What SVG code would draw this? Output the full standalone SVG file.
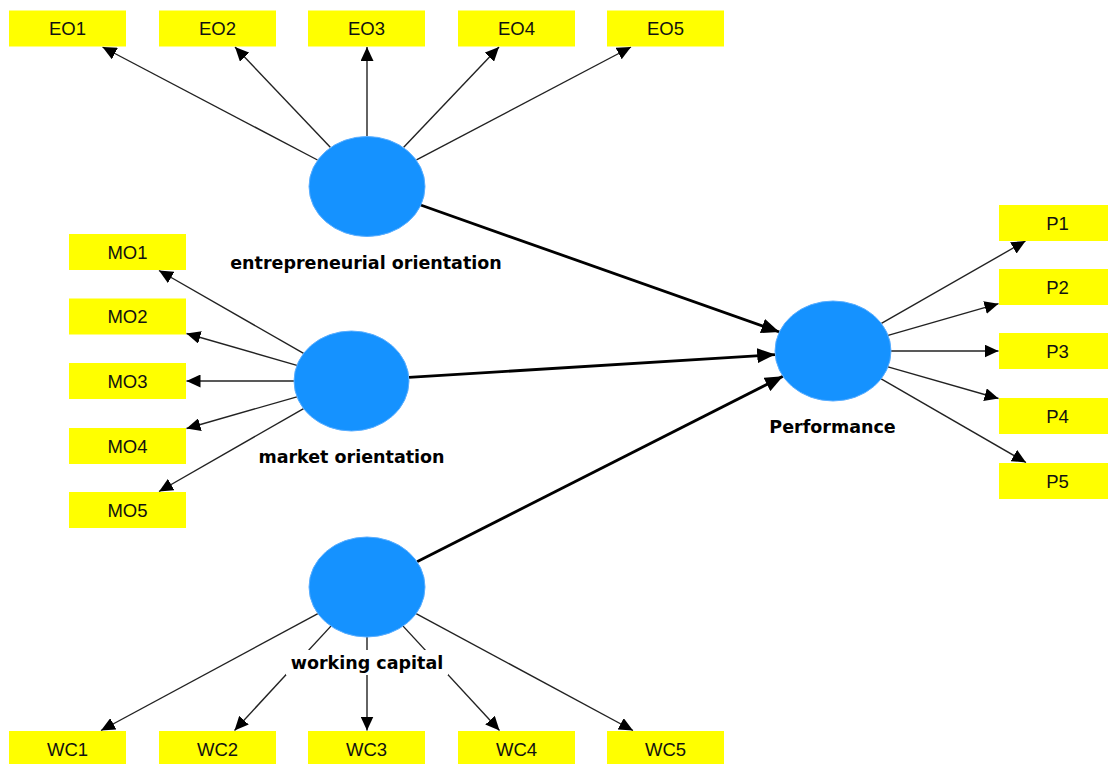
<svg xmlns="http://www.w3.org/2000/svg" width="1108" height="764" viewBox="0 0 1108 764">
<defs>
<style>
.box{fill:#FFFF00;}
.bt{font-family:"Liberation Sans",Arial,sans-serif;font-size:18.5px;fill:#111;text-anchor:middle;}
.lv{fill:#1592FF;stroke:#5aaeff;stroke-width:1;}
.lb{font-family:"DejaVu Sans",Verdana,sans-serif;font-weight:bold;font-size:17.5px;fill:#000;text-anchor:middle;}
.e{stroke:#222;stroke-width:1.4;fill:none;marker-end:url(#a);}
.s{stroke:#000;stroke-width:2.8;fill:none;marker-end:url(#b);}
</style>
<marker id="a" markerUnits="userSpaceOnUse" markerWidth="15" markerHeight="13" refX="14" refY="6.5" orient="auto"><path d="M0,0 L14,6.5 L0,13 z" fill="#000"/></marker>
<marker id="b" markerUnits="userSpaceOnUse" markerWidth="19" markerHeight="15" refX="18" refY="7.5" orient="auto"><path d="M0,0 L18,7.5 L0,15 z" fill="#000"/></marker>
</defs>
<rect width="1108" height="764" fill="#fff"/>
<g id="connectors">
<line class="e" x1="317.5" y1="160" x2="102.5" y2="47"/>
<line class="e" x1="330.3" y1="147.3" x2="235" y2="47"/>
<line class="e" x1="367" y1="136" x2="367" y2="47"/>
<line class="e" x1="403.7" y1="147.3" x2="499" y2="47"/>
<line class="e" x1="416.5" y1="159.9" x2="631" y2="47"/>
<line class="e" x1="303.6" y1="353.4" x2="159" y2="270.5"/>
<line class="e" x1="296.9" y1="365.3" x2="186.5" y2="333.5"/>
<line class="e" x1="294" y1="381" x2="186.5" y2="381"/>
<line class="e" x1="296.9" y1="396.8" x2="186.5" y2="428.5"/>
<line class="e" x1="303.6" y1="408.6" x2="159" y2="491.5"/>
<line class="e" x1="881.4" y1="323.4" x2="1025.5" y2="241"/>
<line class="e" x1="888.1" y1="335.3" x2="998.5" y2="303.7"/>
<line class="e" x1="891" y1="351" x2="998.5" y2="351"/>
<line class="e" x1="888" y1="366.9" x2="998.5" y2="398.5"/>
<line class="e" x1="881.2" y1="378.9" x2="1026" y2="462.5"/>
<line class="e" x1="317.9" y1="613.6" x2="101" y2="730.5"/>
<line class="e" x1="330.9" y1="626.1" x2="234.5" y2="730.5"/>
<line class="e" x1="367" y1="637" x2="367" y2="730.5"/>
<line class="e" x1="403.1" y1="626.1" x2="499.5" y2="730.5"/>
<line class="e" x1="416.1" y1="613.6" x2="633" y2="730.5"/>
<line class="s" x1="420.6" y1="205" x2="779.4" y2="332"/>
<line class="s" x1="408.8" y1="377.4" x2="775.2" y2="354.6"/>
<line class="s" x1="417" y1="561.7" x2="783" y2="376.3"/>
</g>
<g id="EO1"><rect class="box" x="9" y="10.5" width="117" height="36"/><text class="bt" x="67.5" y="35">EO1</text></g>
<g id="EO2"><rect class="box" x="159" y="10.5" width="117" height="36"/><text class="bt" x="217.5" y="35">EO2</text></g>
<g id="EO3"><rect class="box" x="308" y="10.5" width="117" height="36"/><text class="bt" x="366.5" y="35">EO3</text></g>
<g id="EO4"><rect class="box" x="458" y="10.5" width="117" height="36"/><text class="bt" x="516.5" y="35">EO4</text></g>
<g id="EO5"><rect class="box" x="607" y="10.5" width="117" height="36"/><text class="bt" x="665.5" y="35">EO5</text></g>
<g id="MO1"><rect class="box" x="69" y="234" width="117" height="36"/><text class="bt" x="127.5" y="258.5">MO1</text></g>
<g id="MO2"><rect class="box" x="69" y="298.5" width="117" height="36"/><text class="bt" x="127.5" y="323">MO2</text></g>
<g id="MO3"><rect class="box" x="69" y="363" width="117" height="36"/><text class="bt" x="127.5" y="387.5">MO3</text></g>
<g id="MO4"><rect class="box" x="69" y="428" width="117" height="36"/><text class="bt" x="127.5" y="452.5">MO4</text></g>
<g id="MO5"><rect class="box" x="69" y="492" width="117" height="36"/><text class="bt" x="127.5" y="516.5">MO5</text></g>
<g id="P1"><rect class="box" x="999" y="205" width="117" height="36"/><text class="bt" x="1057.5" y="229.5">P1</text></g>
<g id="P2"><rect class="box" x="999" y="269" width="117" height="36"/><text class="bt" x="1057.5" y="293.5">P2</text></g>
<g id="P3"><rect class="box" x="999" y="333" width="117" height="36"/><text class="bt" x="1057.5" y="357.5">P3</text></g>
<g id="P4"><rect class="box" x="999" y="398" width="117" height="36"/><text class="bt" x="1057.5" y="422.5">P4</text></g>
<g id="P5"><rect class="box" x="999" y="463" width="117" height="36"/><text class="bt" x="1057.5" y="487.5">P5</text></g>
<g id="WC1"><rect class="box" x="9" y="731" width="117" height="36"/><text class="bt" x="67.5" y="755.5">WC1</text></g>
<g id="WC2"><rect class="box" x="159" y="731" width="117" height="36"/><text class="bt" x="217.5" y="755.5">WC2</text></g>
<g id="WC3"><rect class="box" x="308" y="731" width="117" height="36"/><text class="bt" x="366.5" y="755.5">WC3</text></g>
<g id="WC4"><rect class="box" x="458" y="731" width="117" height="36"/><text class="bt" x="516.5" y="755.5">WC4</text></g>
<g id="WC5"><rect class="box" x="607" y="731" width="117" height="36"/><text class="bt" x="665.5" y="755.5">WC5</text></g>
<g id="entrepreneurial_orientation"><ellipse class="lv" cx="367" cy="186.5" rx="58" ry="50"/><text class="lb" x="366" y="269">entrepreneurial orientation</text></g>
<g id="market_orientation"><ellipse class="lv" cx="351.5" cy="381" rx="57.5" ry="50"/><text class="lb" x="351.5" y="463">market orientation</text></g>
<g id="Performance"><ellipse class="lv" cx="833" cy="351" rx="58" ry="50"/><text class="lb" x="832.5" y="433">Performance</text></g>
<g id="working_capital"><ellipse class="lv" cx="367" cy="587" rx="58" ry="50"/><rect x="286" y="650" width="162" height="25" fill="#fff"/><text class="lb" x="367" y="669">working capital</text></g>
</svg>
